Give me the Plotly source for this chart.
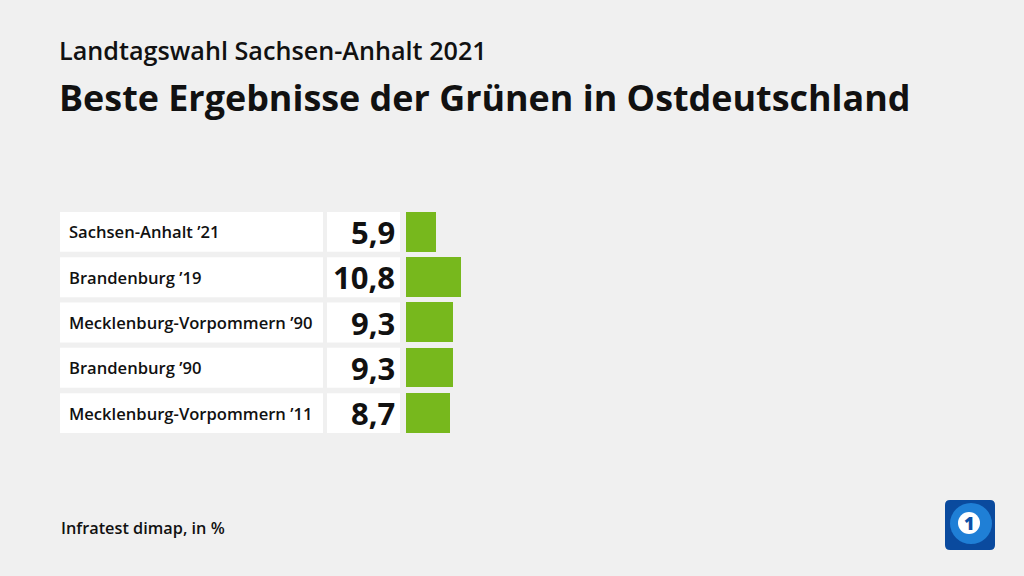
import plotly.graph_objects as go

categories = ["Sachsen-Anhalt ’21", "Brandenburg ’19", "Mecklenburg-Vorpommern ’90",
              "Brandenburg ’90", "Mecklenburg-Vorpommern ’11"]
values = [5.9, 10.8, 9.3, 9.3, 8.7]
value_labels = ["5,9", "10,8", "9,3", "9,3", "8,7"]

W, H = 1024, 576
BG = "#f0f0f0"
GREEN = "#77b81d"
FONT = "Open Sans"

def px(x):
    return x / W

def py(y):
    return 1 - y / H

idx = list(range(len(categories)))

fig = go.Figure()
fig.add_trace(go.Bar(
    x=values, y=idx, orientation="h", marker=dict(color=GREEN, line=dict(width=0)),
    width=0.88, hoverinfo="skip", showlegend=False,
))

shapes = []
annotations = []
for i, (cat, lab) in enumerate(zip(categories, value_labels)):
    shapes.append(dict(type="rect", xref="paper", yref="y", x0=px(60), x1=px(323),
                       y0=i - 0.44, y1=i + 0.44, fillcolor="white", line=dict(width=0), layer="below"))
    shapes.append(dict(type="rect", xref="paper", yref="y", x0=px(327), x1=px(400),
                       y0=i - 0.44, y1=i + 0.44, fillcolor="white", line=dict(width=0), layer="below"))
    annotations.append(dict(text=cat, xref="paper", yref="y", x=px(67), y=i, xanchor="left",
                            yanchor="middle", showarrow=False,
                            font=dict(family=FONT, size=16.6, color="#111", weight=600)))
    annotations.append(dict(text=lab, xref="paper", yref="y", x=px(397), y=i, xanchor="right",
                            yanchor="middle", showarrow=False,
                            font=dict(family=FONT, size=31, color="#111", weight=700)))

annotations += [
    dict(text="Landtagswahl Sachsen-Anhalt 2021", xref="paper", yref="paper", x=px(57), y=py(50),
         xanchor="left", yanchor="middle", showarrow=False,
         font=dict(family=FONT, size=25.2, color="#111", weight=600)),
    dict(text="Beste Ergebnisse der Grünen in Ostdeutschland", xref="paper", yref="paper",
         x=px(57), y=py(98), xanchor="left", yanchor="middle", showarrow=False,
         font=dict(family=FONT, size=35.9, color="#111", weight=700)),
    dict(text="Infratest dimap, in %", xref="paper", yref="paper", x=px(59), y=py(528),
         xanchor="left", yanchor="middle", showarrow=False,
         font=dict(family=FONT, size=16.3, color="#111", weight=600)),
    dict(text="1", xref="paper", yref="paper", x=px(969), y=py(523),
         xanchor="center", yanchor="middle", showarrow=False,
         font=dict(family=FONT, size=18, color="#0b4fa8", weight=800)),
]

# logo
shapes += [
    dict(type="path", xref="paper", yref="paper",
         path=f"M {px(950)},{py(500)} L {px(990)},{py(500)} Q {px(995)},{py(500)} {px(995)},{py(505)} "
              f"L {px(995)},{py(545)} Q {px(995)},{py(550)} {px(990)},{py(550)} L {px(950)},{py(550)} "
              f"Q {px(945)},{py(550)} {px(945)},{py(545)} L {px(945)},{py(505)} Q {px(945)},{py(500)} {px(950)},{py(500)} Z",
         fillcolor="#0a4a9e", line=dict(width=0)),
    dict(type="circle", xref="paper", yref="paper", x0=px(950), x1=px(992), y0=py(544), y1=py(503),
         fillcolor="#1f7fd6", line=dict(width=0)),
    dict(type="circle", xref="paper", yref="paper", x0=px(958), x1=px(980), y0=py(534), y1=py(512),
         fillcolor="white", line=dict(width=0)),
]

fig.update_layout(
    width=W, height=H, margin=dict(l=0, r=0, t=0, b=0),
    paper_bgcolor=BG, plot_bgcolor=BG,
    xaxis=dict(domain=[px(406), 1], range=[0, (W - 406) / 5.1], visible=False, fixedrange=True),
    yaxis=dict(domain=[py(435.7), py(209.3)], range=[len(categories) - 0.5, -0.5],
               visible=False, fixedrange=True),
    shapes=shapes, annotations=annotations, bargap=0,
)

fig.write_html("out.html", config=dict(displayModeBar=False),
               post_script="document.body.style.margin='0';document.body.style.overflow='hidden';")
